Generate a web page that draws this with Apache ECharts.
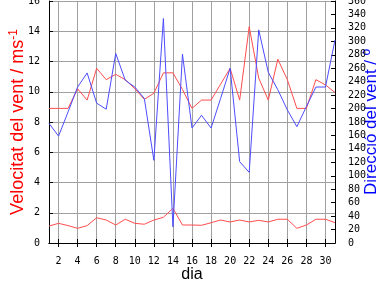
<!DOCTYPE html>
<html><head><meta charset="utf-8">
<script src="https://cdn.jsdelivr.net/npm/echarts@6/dist/echarts.min.js"></script>
<style>html,body{margin:0;padding:0;background:#fff}#c{width:384px;height:288px}</style>
</head><body><div id="c"></div>
<script>
const days = ['1','2','3','4','5','6','7','8','9','10','11','12','13','14','15','16','17','18','19','20','21','22','23','24','25','26','27','28','29','30','31'];
const speedMax = [8.9,8.9,8.9,10.2,9.45,11.55,10.8,11.15,10.8,10.2,9.5,9.9,11.25,11.25,10.15,8.9,9.45,9.45,10.5,11.55,9.45,14.3,10.9,9.45,12.15,10.8,8.9,8.9,10.8,10.45,9.95];
const speedMean = [1.12,1.3,1.15,0.97,1.15,1.67,1.52,1.19,1.57,1.3,1.24,1.52,1.7,2.29,1.19,1.19,1.17,1.34,1.52,1.39,1.52,1.39,1.5,1.39,1.57,1.57,0.97,1.19,1.57,1.57,1.35];
const direction = [178,159,195,232,253,208,199,282,242,232,215,123,334,24,281,171,190,171,215,260,121,105,317,254,228,198,173,203,232,232,302];
const leftTitle = 'Velocitat del vent / ms{sup|-1}';
const rightTitle = 'Direcció del vent / º';
const xTitle = 'dia';

const evenDay = (i) => i % 2 === 1;
const tickFont = { fontFamily: 'DejaVu Sans Mono', fontSize: 10, color: '#000' };
const chart = echarts.init(document.getElementById('c'), null, { renderer: 'canvas' });
chart.setOption({
  animation: false,
  backgroundColor: '#fff',
  grid: { left: 49, right: 49, top: 1, bottom: 45, containLabel: false, outerBoundsMode: 'none' },
  xAxis: [{
    type: 'category', data: days, boundaryGap: false, position: 'bottom',
    name: xTitle, nameLocation: 'middle', nameGap: 24, nameMoveOverlap: false,
    nameTextStyle: { fontFamily: 'Liberation Sans', fontSize: 16, color: '#000' },
    axisLine: { lineStyle: { color: '#000', width: 1 } },
    axisTick: { inside: true, length: 4, interval: evenDay, lineStyle: { color: '#000' } },
    axisLabel: Object.assign({ interval: evenDay, margin: 13 }, tickFont),
    splitLine: { show: true, interval: evenDay, lineStyle: { color: '#a0a0a0', width: 1 } }
  }, {
    type: 'category', data: days, boundaryGap: false, position: 'top',
    axisLine: { lineStyle: { color: '#000', width: 1 } },
    axisTick: { inside: true, length: 4, interval: evenDay, lineStyle: { color: '#000' } },
    axisLabel: { show: false },
    splitLine: { show: false }
  }],
  yAxis: [{
    type: 'value', min: 0, max: 16, interval: 2, position: 'left',
    name: leftTitle, nameLocation: 'middle', nameGap: 21, nameRotate: 90, nameMoveOverlap: false,
    nameTextStyle: {
      fontFamily: 'Liberation Sans', fontSize: 18, color: '#ff0000', lineHeight: 20,
      rich: { sup: { fontFamily: 'Liberation Sans', fontSize: 12, color: '#ff0000', verticalAlign: 'top', lineHeight: 12 } }
    },
    axisLine: { show: true, lineStyle: { color: '#000', width: 1 } },
    axisTick: { show: true, inside: true, length: 4, lineStyle: { color: '#000' } },
    axisLabel: Object.assign({ margin: 9 }, tickFont),
    splitLine: { show: true, lineStyle: { color: '#a0a0a0', width: 1 } }
  }, {
    type: 'value', min: 0, max: 360, interval: 20, position: 'right',
    name: rightTitle, nameLocation: 'middle', nameGap: 28, nameRotate: 90, nameMoveOverlap: false,
    nameTextStyle: { fontFamily: 'Liberation Sans', fontSize: 17, color: '#0000ff', backgroundColor: '#fff' },
    axisLine: { show: true, lineStyle: { color: '#000', width: 1 } },
    axisTick: { show: true, inside: true, length: 4, lineStyle: { color: '#000' } },
    axisLabel: Object.assign({ margin: 13 }, tickFont),
    splitLine: { show: false }
  }],
  series: [
    { type: 'line', name: 'max', data: speedMax, xAxisIndex: 0, yAxisIndex: 0, showSymbol: false, lineStyle: { color: '#ff4d4d', width: 1 }, itemStyle: { color: '#ff4d4d' } },
    { type: 'line', name: 'mitjana', data: speedMean, xAxisIndex: 0, yAxisIndex: 0, showSymbol: false, lineStyle: { color: '#ff4d4d', width: 1 }, itemStyle: { color: '#ff4d4d' } },
    { type: 'line', name: 'direcció', data: direction, xAxisIndex: 0, yAxisIndex: 1, showSymbol: false, lineStyle: { color: '#4d4dff', width: 1 }, itemStyle: { color: '#4d4dff' } }
  ]
});
</script></body></html>
